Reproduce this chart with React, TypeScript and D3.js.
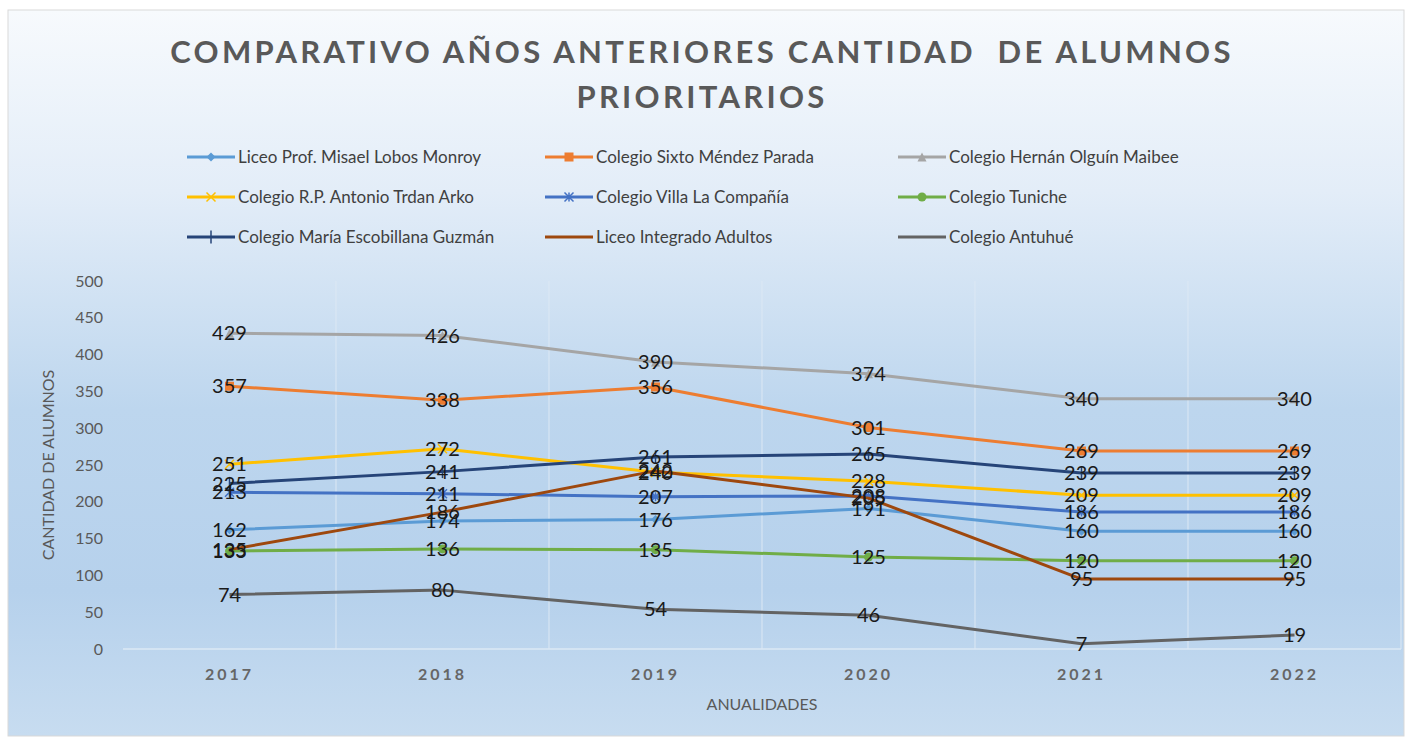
import * as React from "react";
import * as d3 from "d3";

const years = ["2017", "2018", "2019", "2020", "2021", "2022"];
const yTicks = [0, 50, 100, 150, 200, 250, 300, 350, 400, 450, 500];

const seriesNames = [
  "Liceo Prof. Misael Lobos Monroy",
  "Colegio Sixto Méndez Parada",
  "Colegio Hernán Olguín Maibee",
  "Colegio R.P. Antonio Trdan Arko",
  "Colegio Villa La Compañía",
  "Colegio Tuniche",
  "Colegio María Escobillana Guzmán",
  "Liceo Integrado Adultos",
  "Colegio Antuhué",
];

const lobosMonroy = [162, 174, 176, 191, 160, 160];
const sixtoMendez = [357, 338, 356, 301, 269, 269];
const hernanOlguin = [429, 426, 390, 374, 340, 340];
const trdanArko = [251, 272, 240, 228, 209, 209];
const villaCompania = [213, 211, 207, 208, 186, 186];
const tuniche = [133, 136, 135, 125, 120, 120];
const escobillana = [225, 241, 261, 265, 239, 239];
const integradoAdultos = [135, 186, 242, 205, 95, 95];
const antuhue = [74, 80, 54, 46, 7, 19];

const seriesValues = [
  lobosMonroy, sixtoMendez, hernanOlguin, trdanArko, villaCompania,
  tuniche, escobillana, integradoAdultos, antuhue,
];
const colors = [
  "#5b9bd5", "#ed7d31", "#a5a5a5", "#ffc000", "#4472c4",
  "#70ad47", "#264478", "#9e480e", "#636363",
];
const markers = ["diamond", "square", "triangle", "x", "asterisk", "circle", "plus", "none", "none"];

function drawMarker(g, type, color) {
  const s = 4.5;
  if (type === "diamond") {
    g.append("path").attr("d", `M0,${-s}L${s},0L0,${s}L${-s},0Z`).attr("fill", color);
  } else if (type === "square") {
    g.append("rect").attr("x", -s).attr("y", -s).attr("width", 2 * s).attr("height", 2 * s).attr("fill", color);
  } else if (type === "triangle") {
    g.append("path").attr("d", `M0,${-s}L${s},${s}L${-s},${s}Z`).attr("fill", color);
  } else if (type === "circle") {
    g.append("circle").attr("r", s).attr("fill", color);
  } else if (type === "x") {
    g.append("path").attr("d", `M${-s},${-s}L${s},${s}M${-s},${s}L${s},${-s}`).attr("stroke", color).attr("stroke-width", 1.5);
  } else if (type === "asterisk") {
    g.append("path").attr("d", `M${-s},${-s}L${s},${s}M${-s},${s}L${s},${-s}M0,${-s}L0,${s}`).attr("stroke", color).attr("stroke-width", 1.5);
  } else if (type === "plus") {
    g.append("path").attr("d", `M0,${-s - 2}L0,${s + 2}`).attr("stroke", color).attr("stroke-width", 1.5);
  }
}

function drawChart(svgRef) {
  const width = 1410;
  const height = 740;
  const margin = { left: 123, right: 9, top: 281, bottom: 91 };
  const font = "Lato, 'Open Sans', sans-serif";

  const svg = d3.select(svgRef.current).attr("width", width).attr("height", height);
  svg.selectAll("*").remove();

  const defs = svg.append("defs");
  const grad = defs.append("linearGradient").attr("id", "bg").attr("x1", 0).attr("y1", 0).attr("x2", 0).attr("y2", 1);
  grad.append("stop").attr("offset", "0%").attr("stop-color", "#f7fafd");
  grad.append("stop").attr("offset", "25%").attr("stop-color", "#e3edf8");
  grad.append("stop").attr("offset", "55%").attr("stop-color", "#bdd6ee");
  grad.append("stop").attr("offset", "80%").attr("stop-color", "#b6d1ec");
  grad.append("stop").attr("offset", "100%").attr("stop-color", "#c7dcf0");

  svg.append("rect").attr("width", width).attr("height", height).attr("fill", "#ffffff");
  svg.append("rect").attr("x", 8).attr("y", 10).attr("width", 1396).attr("height", 726)
    .attr("fill", "url(#bg)").attr("stroke", "#d9d9d9");

  const x = d3.scaleBand().domain(years).range([margin.left, width - margin.right]);
  const y = d3.scaleLinear().domain([0, 500]).range([height - margin.bottom, margin.top]);

  // gridlines
  svg.append("g").selectAll("line").data(years)
    .enter().append("line")
    .attr("x1", (d, i) => x.range()[0] + x.bandwidth() * (i + 1))
    .attr("x2", (d, i) => x.range()[0] + x.bandwidth() * (i + 1))
    .attr("y1", y(500)).attr("y2", y(0))
    .attr("stroke", "#dce8f4").attr("stroke-width", 1);
  svg.append("line").attr("x1", x.range()[0]).attr("x2", x.range()[1])
    .attr("y1", y(0)).attr("y2", y(0)).attr("stroke", "#dce8f4").attr("stroke-width", 1.5);

  // y ticks
  svg.append("g").selectAll("text").data(yTicks).enter().append("text")
    .attr("x", 103).attr("y", (d) => y(d)).attr("dy", "0.35em")
    .attr("text-anchor", "end").attr("font-family", font).attr("font-size", 16)
    .attr("fill", "#595959").text((d) => d);

  // x ticks
  svg.append("g").selectAll("text").data(years).enter().append("text")
    .attr("x", (d) => x(d) + x.bandwidth() / 2).attr("y", 680)
    .attr("text-anchor", "middle").attr("font-family", font).attr("font-size", 16)
    .attr("font-weight", "bold").attr("letter-spacing", "3px").attr("fill", "#666666").text((d) => d);

  // axis titles
  svg.append("text").attr("x", (x.range()[0] + x.range()[1]) / 2).attr("y", 710)
    .attr("text-anchor", "middle").attr("font-family", font).attr("font-size", 16)
    .attr("fill", "#595959").text("ANUALIDADES");
  svg.append("text").attr("transform", `translate(54, ${y(250)}) rotate(-90)`)
    .attr("text-anchor", "middle").attr("font-family", font).attr("font-size", 16)
    .attr("fill", "#595959").text("CANTIDAD DE ALUMNOS");

  // title
  const title = svg.append("text").attr("text-anchor", "middle").attr("font-family", font)
    .attr("font-size", 31).attr("font-weight", "bold").attr("letter-spacing", "3.3px").attr("fill", "#595959")
    .style("white-space", "pre");
  title.append("tspan").attr("x", 702).attr("y", 63).text("COMPARATIVO AÑOS ANTERIORES CANTIDAD  DE ALUMNOS");
  title.append("tspan").attr("x", 702).attr("y", 108).text("PRIORITARIOS");

  // legend
  const legendCols = [187, 545, 898];
  const legendRows = [157, 197, 237];
  seriesNames.forEach((name, i) => {
    const lx = legendCols[i % 3];
    const ly = legendRows[Math.floor(i / 3)];
    const lg = svg.append("g").attr("transform", `translate(${lx}, ${ly})`);
    lg.append("line").attr("x1", 0).attr("x2", 48).attr("stroke", colors[i]).attr("stroke-width", 3);
    const mk = lg.append("g").attr("transform", "translate(24, 0)");
    drawMarker(mk, markers[i], colors[i]);
    lg.append("text").attr("x", 51).attr("dy", "0.35em").attr("font-family", font)
      .attr("font-size", 17).attr("fill", "#404040").text(name);
  });

  // lines
  const line = d3.line().x((d, i) => x(years[i]) + x.bandwidth() / 2).y((d) => y(d));
  seriesValues.forEach((vals, i) => {
    svg.append("path").datum(vals).attr("d", line).attr("fill", "none")
      .attr("stroke", colors[i]).attr("stroke-width", 3).attr("stroke-linejoin", "round");
    vals.forEach((v, j) => {
      const mk = svg.append("g").attr("transform", `translate(${x(years[j]) + x.bandwidth() / 2}, ${y(v)})`);
      drawMarker(mk, markers[i], colors[i]);
    });
  });

  // data labels
  seriesValues.forEach((vals) => {
    svg.append("g").selectAll("text").data(vals).enter().append("text")
      .attr("x", (d, j) => x(years[j]) + x.bandwidth() / 2).attr("y", (d) => y(d))
      .attr("dy", "0.36em").attr("text-anchor", "middle").attr("font-family", font)
      .attr("font-size", 20).attr("fill", "#1a1a1a").text((d) => d);
  });
}

const App = () => {
  const svgRef = React.useRef(null);

  React.useEffect(() => {
    drawChart(svgRef);
  }, [svgRef]);

  return (
    <div style={{ position: "absolute", left: 0, top: 0 }}>
      <svg ref={svgRef} style={{ display: "block" }} />
    </div>
  );
};

export default App;
